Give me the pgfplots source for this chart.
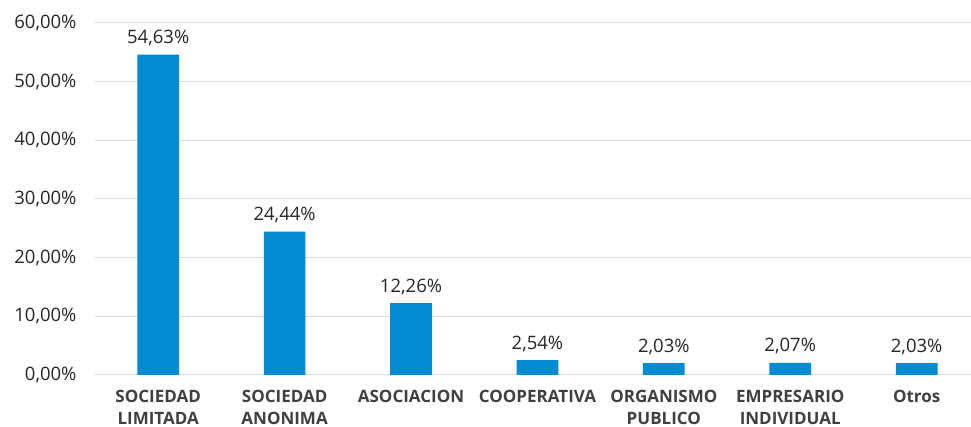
\documentclass[border=0pt]{standalone}
\usepackage{pgfplots}
\pgfplotsset{compat=1.18}
\usepackage{fontspec}
\setmainfont{Open Sans}
\definecolor{barblue}{RGB}{0,139,210}
\definecolor{gridgray}{RGB}{217,217,217}
\definecolor{txt}{RGB}{64,64,64}
\definecolor{num}{RGB}{38,38,38}
\begin{document}
\begin{tikzpicture}
\begin{axis}[
  scale only axis, width=876pt, height=352pt,
  xmin=-0.5, xmax=6.43, ymin=0, ymax=60,
  ybar, bar width=0.33,
  axis x line*=bottom, axis y line*=left,
  x axis line style={-, draw=gridgray, line width=1pt},
  y axis line style={draw=none},
  major tick length=0,
  ymajorgrids, grid style={draw=gridgray, line width=1pt},
  ytick={0,10,...,60},
  /pgf/number format/assume math mode=true,
  yticklabel={\pgfmathprintnumber[fixed,fixed zerofill,precision=2,use comma]{\tick}\%},
  yticklabel style={font=\fontsize{18.5}{21}\selectfont, text=num, xshift=-15pt},
  xtick=data,
  xticklabels={{SOCIEDAD\\LIMITADA},{SOCIEDAD\\ANONIMA},{ASOCIACION},{COOPERATIVA},{ORGANISMO\\PUBLICO},{EMPRESARIO\\INDIVIDUAL},{Otros}},
  xticklabel style={font=\fontsize{17}{22}\selectfont\bfseries, text=txt, align=center, yshift=-12pt},
  nodes near coords={\pgfmathprintnumber[fixed,fixed zerofill,precision=2,use comma]{\pgfplotspointmeta}\%},
  nodes near coords style={font=\fontsize{18.5}{21}\selectfont, text=num, yshift=5pt},
]
\addplot[fill=barblue, draw=none] coordinates {(0,54.63) (1,24.44) (2,12.26) (3,2.54) (4,2.03) (5,2.07) (6,2.03)};
\end{axis}
\pgfresetboundingbox
\path[use as bounding box] ([xshift=-95pt,yshift=-52pt]current axis.south west) rectangle +(971pt,427pt);
\end{tikzpicture}
\end{document}
